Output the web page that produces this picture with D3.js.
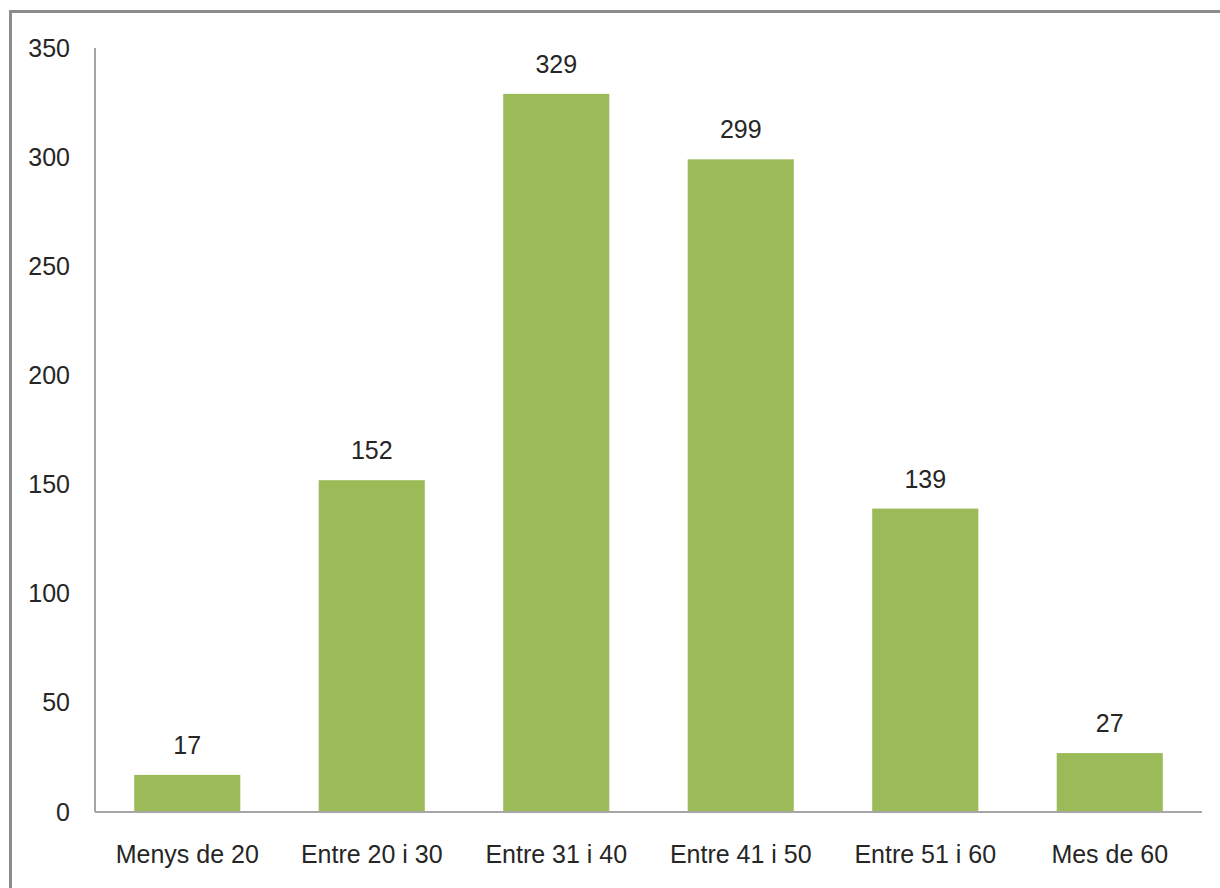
<!DOCTYPE html>
<html>
<head>
<meta charset="utf-8">
<script src="https://cdn.jsdelivr.net/npm/d3@7"></script>
<style>
  body { margin: 0; background: #fff; }
  text { font-family: "Liberation Sans", sans-serif; fill: #262626; }
</style>
</head>
<body>
<div id="chart"></div>
<script>
var categories = ['Menys de 20', 'Entre 20 i 30', 'Entre 31 i 40', 'Entre 41 i 50', 'Entre 51 i 60', 'Mes de 60'];
var values = [17, 152, 329, 299, 139, 27];
var yTicks = [0, 50, 100, 150, 200, 250, 300, 350];

var svgWidth = 1220;
var svgHeight = 888;
var plotLeft = 95, plotRight = 1202, plotTop = 48, plotBottom = 812;
var fontSize = '25px';

var svg = d3.select('#chart')
    .append('svg')
    .attr('width', svgWidth)
    .attr('height', svgHeight)

// frame (only top and left visible)
svg.append('path')
    .attr('d', 'M10.5,' + svgHeight + 'V11.5H' + svgWidth)
    .attr('fill', 'none')
    .attr('stroke', '#8c8c8c')
    .attr('stroke-width', 3)

var x = d3.scaleBand()
    .domain(categories)
    .range([plotLeft, plotRight])
    .paddingInner(0.425)
    .paddingOuter(0.2125)

var y = d3.scaleLinear()
    .domain([0, 350])
    .range([plotBottom, plotTop])

// bars
svg.selectAll('rect.bar')
    .data(values)
    .enter()
    .append('rect')
    .attr('class', 'bar')
    .attr('x', function(d, i) { return x(categories[i]); })
    .attr('y', function(d) { return y(d); })
    .attr('width', x.bandwidth())
    .attr('height', function(d) { return y(0) - y(d); })
    .style('fill', '#9bbb59')

// value labels
svg.selectAll('text.val')
    .data(values)
    .enter()
    .append('text')
    .attr('class', 'val')
    .attr('x', function(d, i) { return x(categories[i]) + x.bandwidth() / 2; })
    .attr('y', function(d) { return y(d) - 21; })
    .attr('text-anchor', 'middle')
    .style('font-size', fontSize)
    .text(function(d) { return d; })

// axes
var yAxis = d3.axisLeft(y)
    .tickValues(yTicks)
    .tickSize(0)
    .tickPadding(25)
var xAxis = d3.axisBottom(x)
    .tickSize(0)
    .tickPadding(33)

var gy = svg.append('g')
    .attr('transform', 'translate(' + plotLeft + ',0)')
    .call(yAxis)
var gx = svg.append('g')
    .attr('transform', 'translate(0,' + plotBottom + ')')
    .call(xAxis)

svg.selectAll('.domain')
    .attr('stroke', '#a6a6a6')
    .attr('stroke-width', 2)
svg.selectAll('.tick text')
    .style('font-size', fontSize)
    .style('font-family', '"Liberation Sans", sans-serif')
    .attr('fill', '#262626')
gy.select('.domain').attr('d', 'M0,' + plotTop + 'V' + plotBottom)
gx.select('.domain').attr('d', 'M' + plotLeft + ',0H' + plotRight)
</script>
</body>
</html>
